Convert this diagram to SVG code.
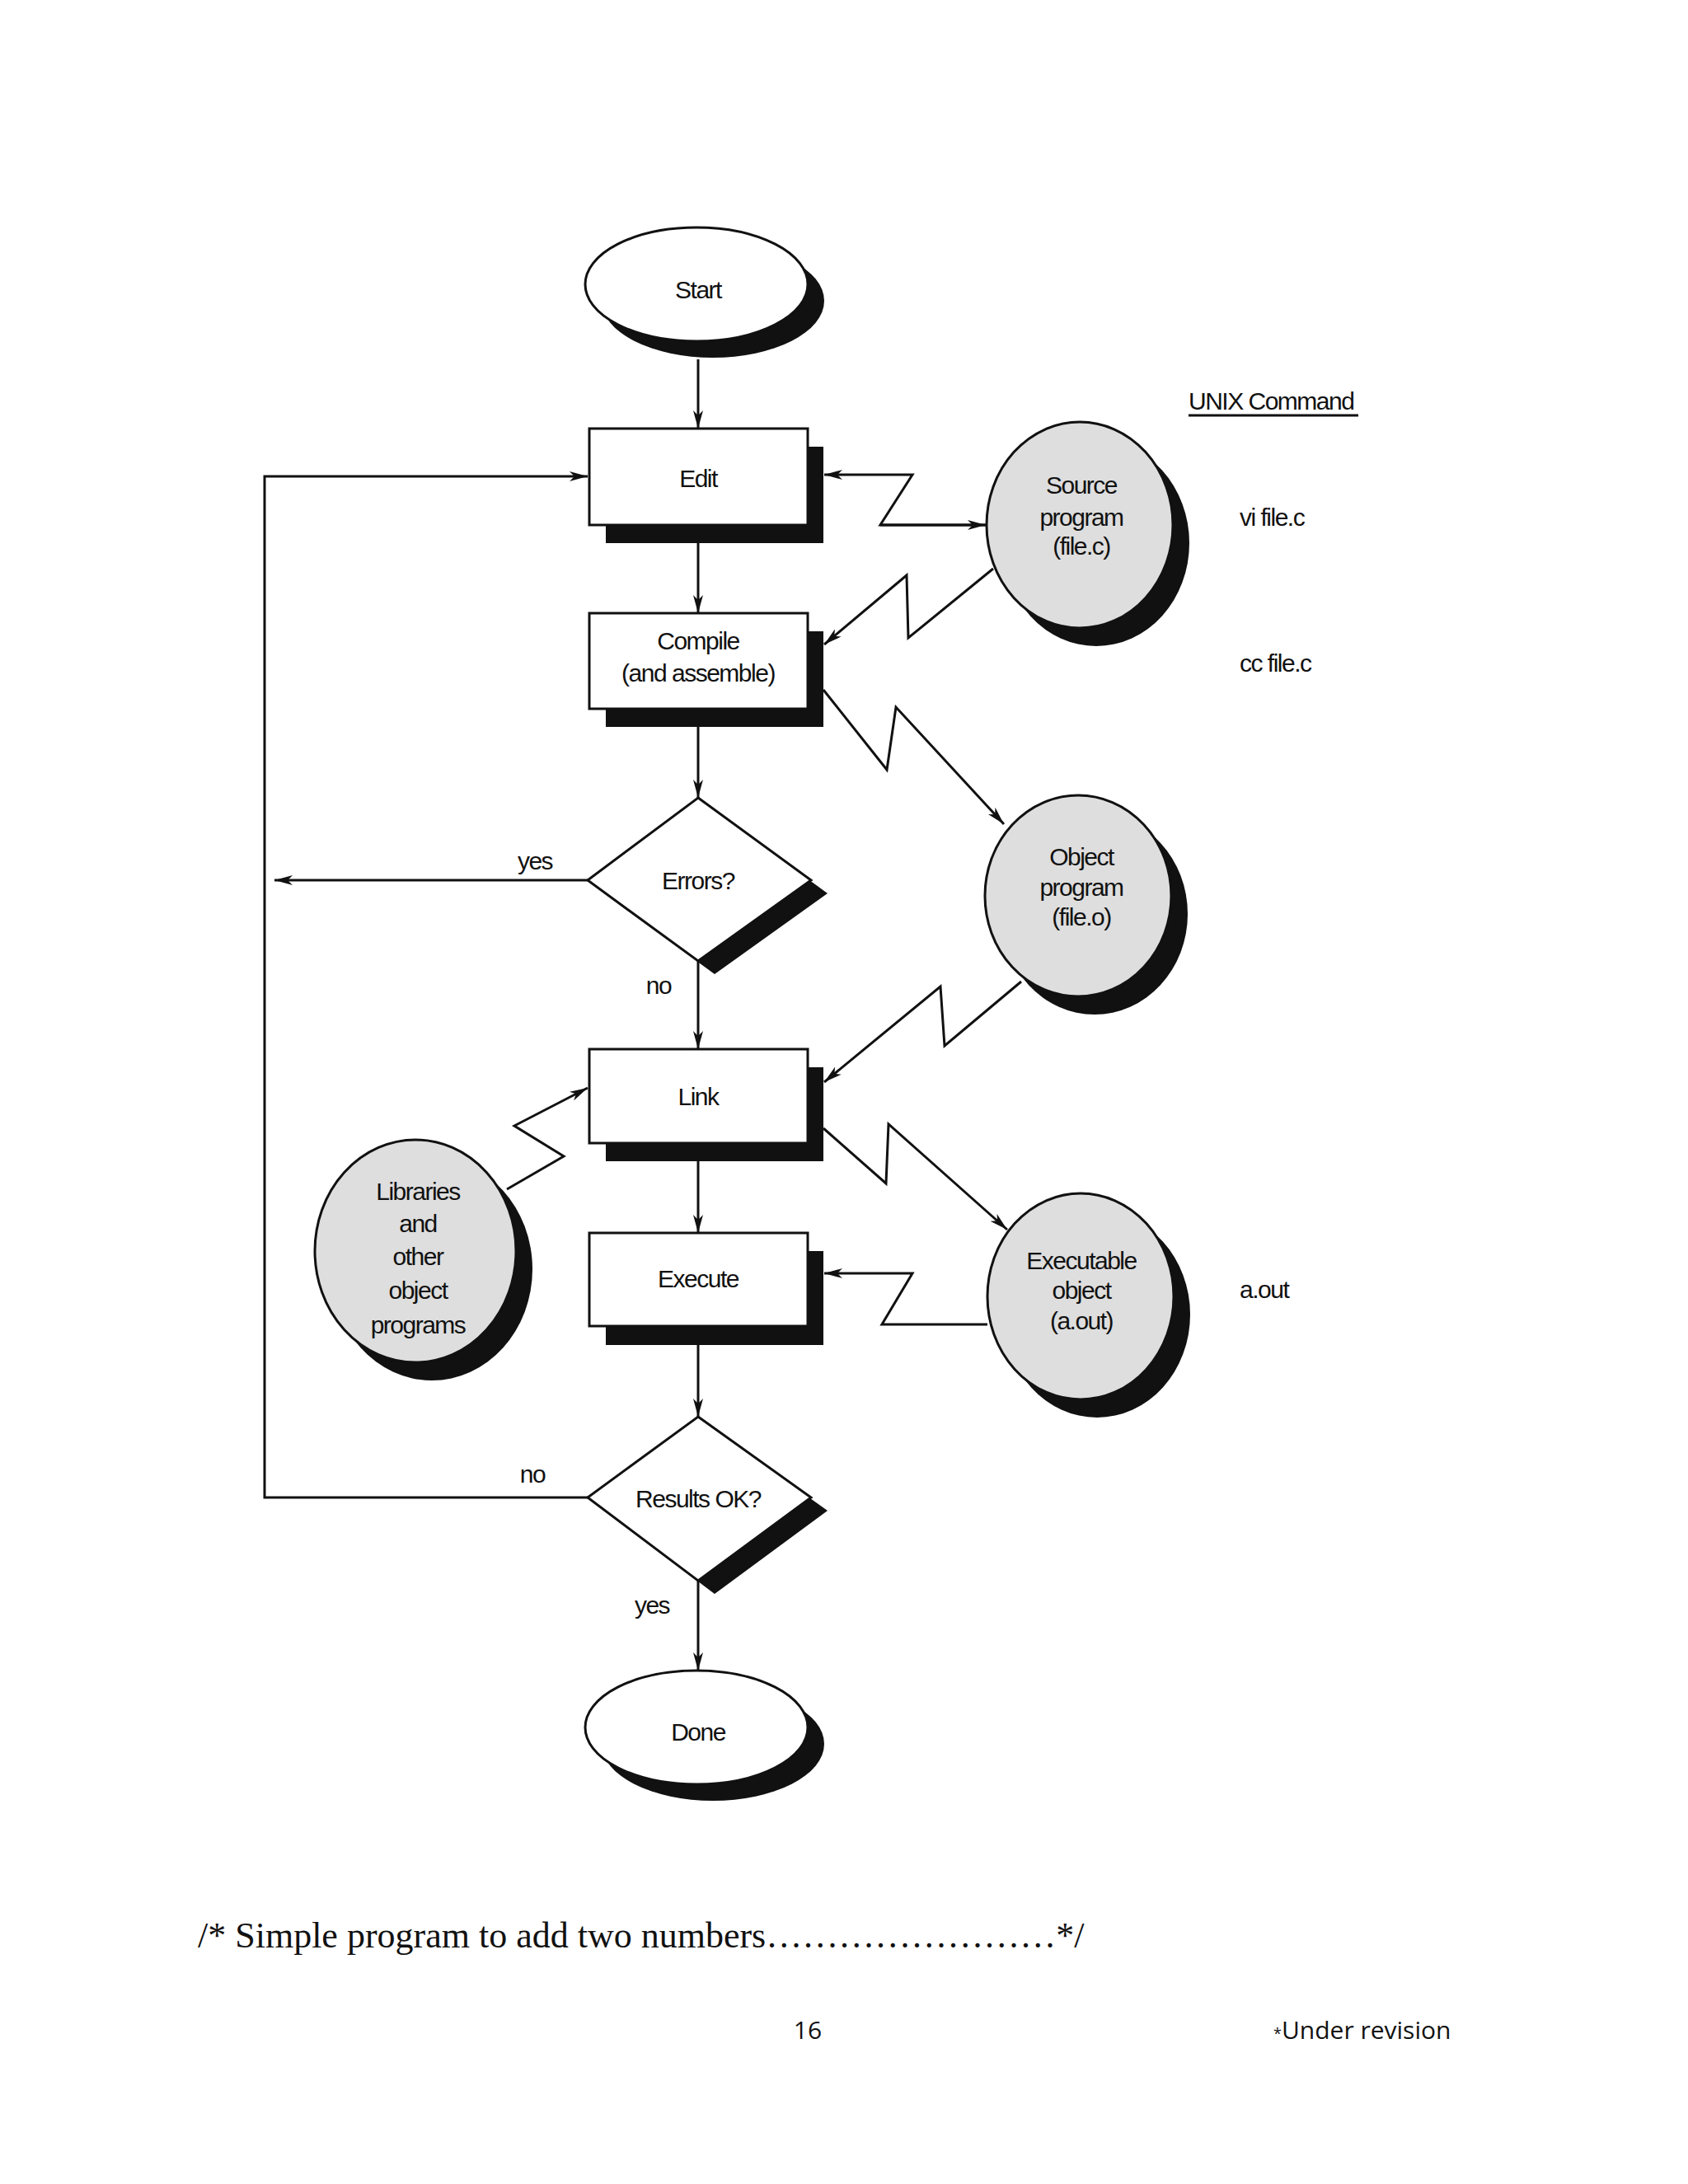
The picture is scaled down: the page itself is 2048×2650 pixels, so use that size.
<svg xmlns="http://www.w3.org/2000/svg" width="2048" height="2650" viewBox="0 0 2048 2650">
<defs>
<marker id="ah" viewBox="0 0 22 12" refX="22" refY="6" markerWidth="22" markerHeight="12" markerUnits="userSpaceOnUse" orient="auto"><path d="M0,0 L22,6 L0,12 L6,6 Z" fill="#111"/></marker>
<style>
.t{font-family:"Liberation Sans",Arial,sans-serif;font-size:30px;fill:#111;text-anchor:middle;letter-spacing:-1.5px}
.r{font-family:"Liberation Sans",Arial,sans-serif;font-size:30px;fill:#111;letter-spacing:-1.5px}
.box{fill:#fff;stroke:#111;stroke-width:3}
.sh{fill:#111}
.gr{fill:#dedede;stroke:#111;stroke-width:3}
.c{fill:none;stroke:#111;stroke-width:3}
.a{fill:none;stroke:#111;stroke-width:3;marker-end:url(#ah)}
</style>
</defs>
<rect width="2048" height="2650" fill="#fff"/>
<g id="connectors">
<path class="a" d="M847,436 V520"/>
<path class="a" d="M847,659 V744"/>
<path class="a" d="M847,882 V968"/>
<path class="a" d="M847,1166 V1273"/>
<path class="a" d="M847,1409 V1496"/>
<path class="a" d="M847,1632 V1719"/>
<path class="a" d="M847,1918 V2027"/>
<path class="a" d="M713,1068 H333"/>
<path class="a" d="M713,1817 H321 V578 H713"/>
<path class="a" d="M1196,637 H1068 L1107,576 H1000"/>
<path class="a" d="M1068,637 H1196"/>
<path class="a" d="M1205,690 L1102,774 L1100,698 L1000,782"/>
<path class="a" d="M999,837 L1076,934 L1087,858 L1218,1000"/>
<path class="a" d="M1239,1191 L1146,1269 L1141,1197 L1000,1313"/>
<path class="a" d="M999,1369 L1075,1436 L1078,1364 L1222,1492"/>
<path class="a" d="M615,1443 L684,1403 L624,1366 L713,1320"/>
<path class="a" d="M1198,1607 H1070 L1107,1545 H1000"/>
</g>
<g id="start"><ellipse cx="865" cy="365" rx="135" ry="69" class="sh"/><ellipse cx="845" cy="345" rx="135" ry="69" class="box"/><text x="847" y="362" class="t">Start</text></g>
<g id="edit"><rect x="735" y="542" width="264" height="117" class="sh"/><rect x="715" y="520" width="265" height="117" class="box"/><text x="847" y="591" class="t">Edit</text></g>
<g id="compile"><rect x="735" y="766" width="264" height="116" class="sh"/><rect x="715" y="744" width="265" height="116" class="box"/><text x="847" y="788" class="t">Compile</text><text x="847" y="827" class="t">(and assemble)</text></g>
<g id="errors"><polygon points="867,984 1004,1084 867,1182 733,1084" class="sh"/><polygon points="847,968 984,1068 847,1166 713,1068" class="box"/><text x="847" y="1079" class="t">Errors?</text></g>
<g id="link"><rect x="735" y="1295" width="264" height="114" class="sh"/><rect x="715" y="1273" width="265" height="114" class="box"/><text x="847" y="1341" class="t">Link</text></g>
<g id="execute"><rect x="735" y="1518" width="264" height="114" class="sh"/><rect x="715" y="1496" width="265" height="113" class="box"/><text x="847" y="1562" class="t">Execute</text></g>
<g id="results"><polygon points="867,1735 1004,1833 867,1934 733,1833" class="sh"/><polygon points="847,1719 984,1817 847,1918 713,1817" class="box"/><text x="847" y="1829" class="t">Results OK?</text></g>
<g id="done"><ellipse cx="865" cy="2116" rx="135" ry="69" class="sh"/><ellipse cx="845" cy="2096" rx="135" ry="69" class="box"/><text x="847" y="2112" class="t">Done</text></g>
<g id="source"><ellipse cx="1330" cy="659" rx="113" ry="125" class="sh"/><ellipse cx="1310" cy="637" rx="113" ry="125" class="gr"/><text x="1312" y="599" class="t">Source</text><text x="1312" y="638" class="t">program</text><text x="1312" y="673" class="t">(file.c)</text></g>
<g id="object"><ellipse cx="1328" cy="1109" rx="113" ry="122" class="sh"/><ellipse cx="1308" cy="1087" rx="113" ry="122" class="gr"/><text x="1312" y="1050" class="t">Object</text><text x="1312" y="1087" class="t">program</text><text x="1312" y="1123" class="t">(file.o)</text></g>
<g id="executable"><ellipse cx="1331" cy="1595" rx="113" ry="125" class="sh"/><ellipse cx="1311" cy="1573" rx="113" ry="125" class="gr"/><text x="1312" y="1540" class="t">Executable</text><text x="1312" y="1576" class="t">object</text><text x="1312" y="1613" class="t">(a.out)</text></g>
<g id="libraries"><ellipse cx="524" cy="1540" rx="122" ry="135" class="sh"/><ellipse cx="504" cy="1518" rx="122" ry="135" class="gr"/><text x="507" y="1456" class="t">Libraries</text><text x="507" y="1495" class="t">and</text><text x="507" y="1535" class="t">other</text><text x="507" y="1576" class="t">object</text><text x="507" y="1618" class="t">programs</text></g>
<g id="labels">
<text x="649" y="1055" class="t">yes</text>
<text x="799" y="1206" class="t">no</text>
<text x="646" y="1799" class="t">no</text>
<text x="791" y="1958" class="t">yes</text>
<text x="1442" y="497" class="r">UNIX Command</text>
<line x1="1442" y1="504" x2="1648" y2="504" stroke="#111" stroke-width="3"/>
<text x="1504" y="638" class="r">vi file.c</text>
<text x="1504" y="815" class="r">cc file.c</text>
<text x="1504" y="1575" class="r">a.out</text>
<text x="240" y="2363" font-family="Liberation Serif,serif" font-size="44" fill="#111">/* Simple program to add two numbers……………………*/</text>
<text x="980" y="2474" font-family="Open Sans,sans-serif" font-size="30" fill="#111" text-anchor="middle">16</text>
<text x="1545" y="2474" font-family="Open Sans,sans-serif" font-size="30" fill="#111"><tspan font-size="18">*</tspan>Under revision</text>
</g>
</svg>
